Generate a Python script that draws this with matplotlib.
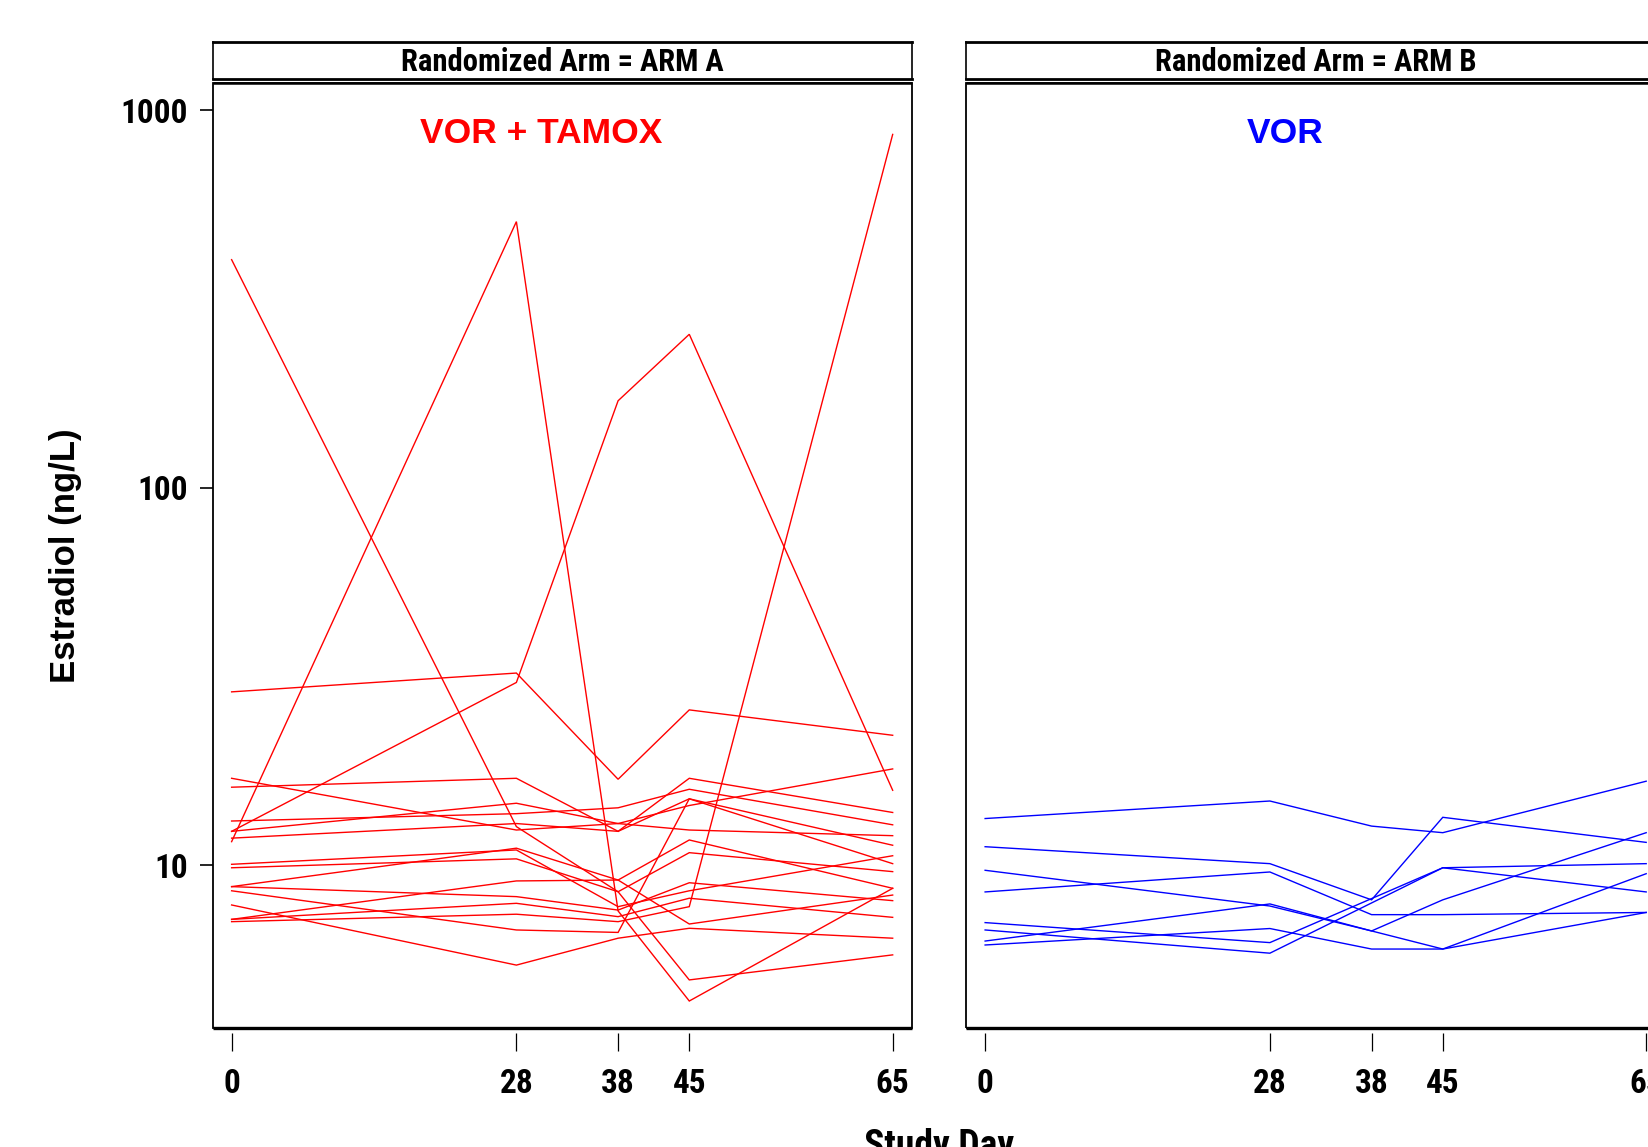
#!/usr/bin/env python3
"""Estradiol by study day, one line per patient, panelled by randomized arm."""
import matplotlib

matplotlib.use("Agg")
import matplotlib.pyplot as plt
import numpy as np
from matplotlib import font_manager
from matplotlib.patches import Rectangle
from matplotlib.ticker import NullLocator

STUDY_DAYS = [0, 28, 38, 45, 65]

# one row per patient, columns follow STUDY_DAYS (ng/L), nan = not sampled
ARM_A_ESTRADIOL = [
    [28.8, 32.3, 16.9, 25.8, 22.1],
    [12.3, 30.5, 170.0, 255.0, 15.8],
    [11.55, 507.0, 7.57, 4.37, 8.69],
    [402.0, 12.66, 8.51, 4.97, 5.79],
    [16.1, 17.0, 12.3, 17.0, 13.8],
    [17.0, 12.4, 12.9, 12.4, 11.98],
    [13.1, 13.7, 14.2, 15.9, 12.8],
    [11.8, 12.9, 12.3, 15.0, 11.3],
    [12.3, 14.6, 12.9, 14.4, 18.0],
    [10.06, 10.98, 7.77, 8.56, 10.6],
    [9.85, 10.4, 8.51, 10.8, 9.62],
    [8.78, 11.1, 9.14, 6.99, 8.34],
    [8.78, 8.26, 7.61, 8.99, 8.06],
    [8.56, 6.74, 6.64, 15.0, 10.1],
    [7.85, 5.44, 6.41, 6.81, 6.41],
    [7.19, 9.09, 9.14, 11.67, 8.69],
    [7.19, 7.93, 7.31, 8.18, 7.28],
    [7.09, 7.42, 7.09, 7.77, 863.0],
]
ARM_B_ESTRADIOL = [
    [13.3, 14.8, 12.7, 12.2, 16.7],
    [11.2, 10.1, 8.1, 13.4, 11.5],
    [8.5, 9.6, 7.4, 7.4, 7.5],
    [6.3, 7.9, 6.7, 8.1, 12.2],
    [9.7, 7.8, 6.7, 6.0, 9.5],
    [6.15, 6.8, 6.0, 6.0, 7.5],
    [7.05, 6.24, np.nan, 9.85, 10.1],
    [6.74, 5.85, np.nan, 9.85, 8.5],
]
ARM_NAMES = ["ARM A", "ARM B"]
ARM_LABELS = ["VOR + TAMOX", "VOR"]
ARM_COLORS = ["#ff0000", "#0000ff"]
Y_TICKS = [10, 100, 1000]

FIG_W, FIG_H = 1648, 1147
WIDE = ["Liberation Sans", "DejaVu Sans"]


def pick_narrow_font():
    """Find a condensed bold face, the reference uses a narrow grotesque."""
    entries = font_manager.fontManager.ttflist
    names = {f.name for f in entries}
    for cand in ("Liberation Sans Narrow", "Arial Narrow", "Roboto Condensed",
                 "Open Sans Condensed", "DejaVu Sans Condensed", "Noto Sans Condensed"):
        if cand in names:
            return cand, "normal"
    for f in entries:
        if f.name == "DejaVu Sans" and f.stretch in ("condensed", "semi-condensed"):
            return "DejaVu Sans", f.stretch
    for f in entries:
        if f.stretch in ("condensed", "semi-condensed", "extra-condensed"):
            return f.name, f.stretch
    for cand in ("Roboto", "Liberation Sans", "DejaVu Sans"):
        if cand in names:
            return cand, "normal"
    return "DejaVu Sans", "normal"


NARROW_FAMILY, NARROW_STRETCH = pick_narrow_font()


def fitted_size(fig, text, width_px, base=20.0):
    probe = fig.text(0, 0, text, fontsize=base, family=[NARROW_FAMILY, "DejaVu Sans"],
                     fontstretch=NARROW_STRETCH, fontweight="bold")
    width = probe.get_window_extent(fig.canvas.get_renderer()).width
    probe.remove()
    return base * width_px / width


def pixel_box(x0, y0, x1, y1):
    return [x0 / FIG_W, 1 - y1 / FIG_H, (x1 - x0) / FIG_W, (y1 - y0) / FIG_H]


def narrow(**kw):
    return dict(family=[NARROW_FAMILY, "DejaVu Sans"], fontstretch=NARROW_STRETCH,
                fontweight="bold", **kw)


def draw_panel(fig, x0, values, color, arm_name, arm_label, show_y, sizes):
    ax = fig.add_axes(pixel_box(x0, 82.7, x0 + 699.2, 1028.3))
    # ticks hang a few pixels below the frame; set before any tick styling
    for spine in ax.spines.values():
        spine.set_visible(False)
    ax.spines["bottom"].set_position(("outward", 3.6))

    data = np.asarray(values, dtype=float)
    days = np.asarray(STUDY_DAYS, dtype=float)
    for row in data:
        keep = ~np.isnan(row)
        ax.plot(days[keep], row[keep], color=color, lw=1.0, solid_joinstyle="miter")

    ax.set_yscale("log")
    ax.set_ylim(3.70, 1183)
    ax.set_xlim(-1.88, 66.87)
    ax.set_xticks(STUDY_DAYS)
    ax.set_xticklabels([str(d) for d in STUDY_DAYS], **narrow(fontsize=sizes["tick"]))
    ax.set_yticks(Y_TICKS)
    ax.set_yticklabels([str(t) for t in Y_TICKS], **narrow(fontsize=sizes["tick"]))
    ax.yaxis.set_minor_locator(NullLocator())

    ax.tick_params(axis="x", length=13, width=0.9, pad=12)
    ax.tick_params(axis="y", length=9.4, width=1.2, pad=8,
                   left=show_y, labelleft=show_y)

    ax.add_patch(Rectangle((0, 0), 1, 1, transform=ax.transAxes, fill=False,
                           lw=1.3, edgecolor="black", clip_on=False, zorder=5))
    ax.plot([0, 1], [0, 0], transform=ax.transAxes, color="black", lw=2.4,
            clip_on=False, zorder=6, solid_capstyle="butt")
    ax.plot([0, 1], [1, 1], transform=ax.transAxes, color="black", lw=1.8,
            clip_on=False, zorder=6, solid_capstyle="butt")

    ax.text(0.47 if show_y else 0.456, 0.9465, arm_label, transform=ax.transAxes,
            ha="center", va="center", color=color, fontsize=25.5,
            fontweight="bold", family=WIDE)

    strip = fig.add_axes(pixel_box(x0, 41.7, x0 + 699.2, 79.3))
    strip.set_xticks([])
    strip.set_yticks([])
    for name, spine in strip.spines.items():
        spine.set_linewidth(2.0 if name in ("top", "bottom") else 1.2)
    strip.text(0.5, 0.47, f"Randomized Arm = {arm_name}", transform=strip.transAxes,
               ha="center", va="center", **narrow(fontsize=sizes["strip"]))
    return ax


def main():
    fig = plt.figure(figsize=(FIG_W / 100, FIG_H / 100), dpi=100)
    sizes = {
        "tick": min(fitted_size(fig, "1000", 67), 27),
        "strip": min(fitted_size(fig, "Randomized Arm = ARM A", 323), 23),
        "xlabel": min(fitted_size(fig, "Study Day", 150), 27),
    }

    panel_x = [212.5, 966.0]
    arm_values = [ARM_A_ESTRADIOL, ARM_B_ESTRADIOL]
    for i in range(2):
        draw_panel(fig, panel_x[i], arm_values[i], ARM_COLORS[i], ARM_NAMES[i],
                   ARM_LABELS[i], show_y=(i == 0), sizes=sizes)

    fig.text(65 / FIG_W, 1 - 555.5 / FIG_H, "Estradiol (ng/L)", rotation=90,
             ha="center", va="center", fontsize=25, fontweight="bold", family=WIDE)
    fig.text(938.7 / FIG_W, 1 - 1128 / FIG_H, "Study Day", ha="center", va="top",
             **narrow(fontsize=sizes["xlabel"]))

    fig.savefig("out.png", dpi=100)
    plt.close(fig)


if __name__ == "__main__":
    main()
